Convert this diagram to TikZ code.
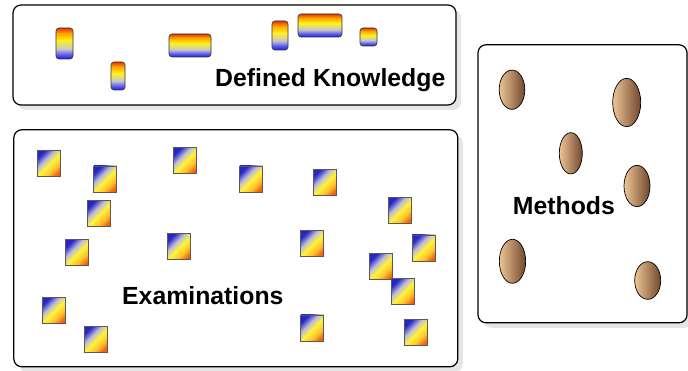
\documentclass[tikz,border=0pt]{standalone}
\usepackage{fontspec}
\setmainfont{Liberation Sans}
\usetikzlibrary{shapes.geometric,shadows}

% bar, bottom (blue) to top (red)
\pgfdeclareverticalshading{factshade}{100bp}{rgb(0bp)=(0.1,0.1,0.9); rgb(25bp)=(0.1,0.1,0.9);
  rgb(33bp)=(0.4,0.4,0.92); rgb(41bp)=(0.78,0.78,0.8); rgb(55bp)=(1,0.95,0.1);
  rgb(67bp)=(1,0.62,0); rgb(75bp)=(0.88,0.22,0); rgb(100bp)=(0.88,0.22,0)}
% square, blue corner to red corner
\pgfdeclarehorizontalshading{examshade}{100bp}{rgb(0bp)=(0.15,0.15,0.78); rgb(26bp)=(0.15,0.15,0.78);
  rgb(40bp)=(0.74,0.74,0.86); rgb(52bp)=(1,0.95,0.22); rgb(66bp)=(1,0.76,0.18);
  rgb(78bp)=(0.95,0.38,0.05); rgb(100bp)=(0.95,0.38,0.05)}

\begin{document}
\begin{tikzpicture}[x=1pt, y=-1pt,
  area/.style 2 args={draw, line width=1.2pt, rounded corners=8pt, fill=white, inner sep=0pt,
                      minimum width=#1pt, minimum height=#2pt,
                      drop shadow={shadow xshift=5pt, shadow yshift=-5pt, fill=black!20}},
  fact/.style 2 args={draw=black!80, line width=0.6pt, rounded corners=3pt, shading=factshade,
                      inner sep=0pt, minimum width=#1pt, minimum height=#2pt},
  exam/.style={draw=black!65, line width=0.8pt, shading=examshade, shading angle=-45,
               inner sep=0pt, minimum width=23pt, minimum height=26pt},
  method/.style 2 args={ellipse, draw, line width=0.7pt,
                        left color={rgb,255:red,238;green,196;blue,150},
                        middle color={rgb,255:red,218;green,168;blue,118},
                        right color={rgb,255:red,112;green,72;blue,44}, inner sep=0pt,
                        minimum width=#1pt, minimum height=#2pt},
  title/.style={font=\fontsize{24.8}{28}\selectfont\bfseries, inner sep=0pt, anchor=base west}
]
\useasboundingbox (0,0) rectangle (688,371);
% --- areas -------------------------------------------------------------
\node[area={443}{100}]   (know)    at (234.5,55)    {};
\node[area={444}{237}]   (exams)   at (235.8,248.3) {};
\node[area={209}{278}]   (methods) at (582.5,183.8) {};
% --- defined knowledge -------------------------------------------------
\node[fact={17}{31}] (f1) at (64.5,43.5) {};
\node[fact={14}{28}] (f2) at (118,76)    {};
\node[fact={42}{23}] (f3) at (190,45.5)  {};
\node[fact={16}{29}] (f4) at (280,35.5)  {};
\node[fact={44}{23}] (f5) at (320,25.5)  {};
\node[fact={17}{18}] (f6) at (368.5,37)  {};
\node[title] (knowlabel) at (215,87) {Defined Knowledge};
% --- examinations ------------------------------------------------------
\node[exam] (e1)  at (49,163.3)   {};
\node[exam] (e2)  at (105.3,179)  {};
\node[exam] (e3)  at (185.3,160.2){};
\node[exam] (e4)  at (251.3,179)  {};
\node[exam] (e5)  at (325,182.2)  {};
\node[exam] (e6)  at (99.2,213.3) {};
\node[exam] (e7)  at (400,210.3)  {};
\node[exam] (e8)  at (77,252.7)   {};
\node[exam] (e9)  at (179,246.5)  {};
\node[exam] (e10) at (312.3,243.3){};
\node[exam] (e11) at (423.7,248)  {};
\node[exam] (e12) at (381,266.7)  {};
\node[exam] (e13) at (403,291.8)  {};
\node[exam] (e14) at (53.7,310.3) {};
\node[exam] (e15) at (96,339)     {};
\node[exam] (e16) at (312.3,328)  {};
\node[exam] (e17) at (415.7,332.7){};
\node[title] (examlabel) at (122,305) {Examinations};
% --- methods -----------------------------------------------------------
\node[method={25.6}{39.3}] (m1) at (512,89.7)    {};
\node[method={28}{48.3}]   (m2) at (626.7,102.5) {};
\node[method={23}{41.3}]   (m3) at (570.8,153.3) {};
\node[method={26}{41.3}]   (m4) at (637,186)     {};
\node[method={26.3}{44}]   (m5) at (512.5,261.3) {};
\node[method={26}{37.7}]   (m6) at (647.7,280.5) {};
\node[title] (methlabel) at (512.7,214.3) {Methods};
\end{tikzpicture}
\end{document}
